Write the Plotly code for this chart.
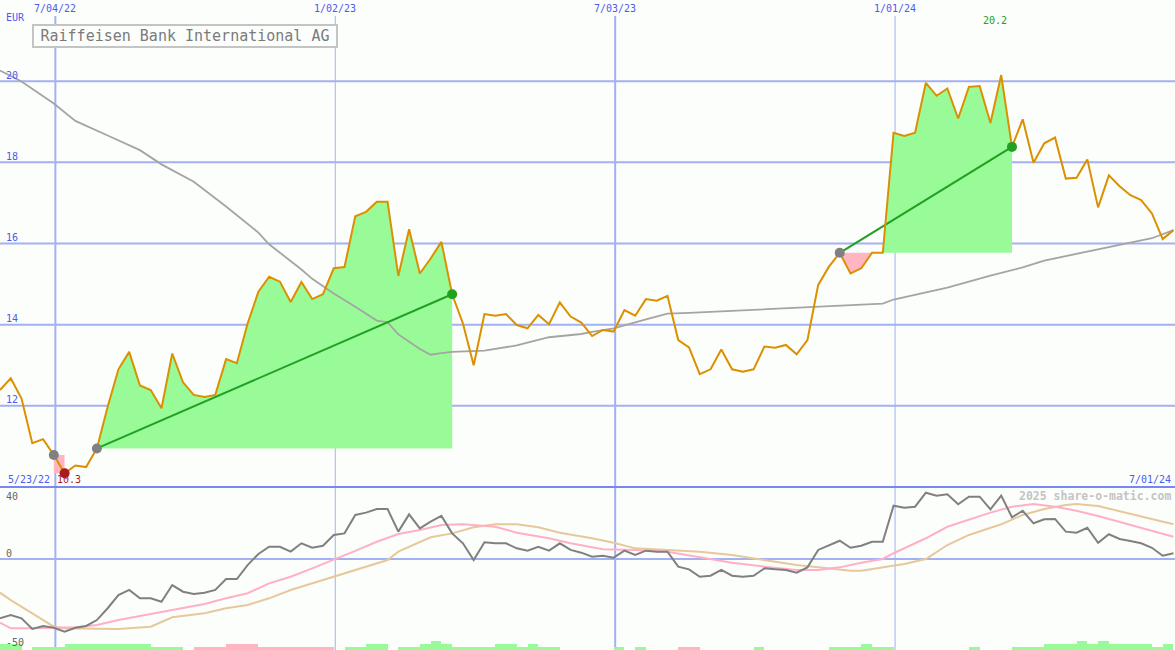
import pandas as pd
import plotly.graph_objects as go

W, H = 1175, 650

# ---------------- data ----------------
start_date = "2022-05-29"
n_weeks = 110

price = [12.39, 12.68, 12.18, 11.08, 11.18, 10.79, 10.34, 10.53, 10.49, 10.95,
         11.98, 12.90, 13.33, 12.50, 12.39, 11.94, 13.29, 12.58, 12.27, 12.22,
         12.27, 13.15, 13.05, 14.03, 14.81, 15.18, 15.06, 14.56, 15.05, 14.63,
         14.75, 15.39, 15.42, 16.67, 16.78, 17.03, 17.03, 15.20, 16.35, 15.26,
         15.63, 16.04, 14.75, 14.03, 13.00, 14.26, 14.22, 14.26, 13.99, 13.91,
         14.24, 14.01, 14.55, 14.20, 14.05, 13.72, 13.87, 13.83, 14.36, 14.22,
         14.63, 14.59, 14.71, 13.62, 13.44, 12.78, 12.90, 13.39, 12.90, 12.84,
         12.90, 13.46, 13.43, 13.50, 13.27, 13.62, 14.98, 15.43, 15.77, 15.26,
         15.39, 15.77, 15.77, 18.73, 18.65, 18.73, 19.96, 19.64, 19.82, 19.08,
         19.86, 19.88, 18.97, 20.15, 18.38, 19.06, 17.99, 18.47, 18.61, 17.60,
         17.62, 18.07, 16.89, 17.68, 17.41, 17.19, 17.07, 16.74, 16.11, 16.33]

# long moving average (main panel), sampled at week indices
ma_idx = [0, 2, 5, 7, 10, 13, 15, 18, 21, 24, 25, 28, 29, 31, 33, 35, 36, 37, 39, 40,
          41, 42, 45, 48, 51, 54, 55, 57, 60, 62, 64, 67, 71, 74, 77, 80, 82, 83, 85,
          88, 92, 95, 97, 100, 103, 106, 107, 109]
ma_val = [20.26, 19.99, 19.45, 19.02, 18.66, 18.30, 17.95, 17.52, 16.91, 16.27, 15.98,
          15.36, 15.13, 14.77, 14.44, 14.10, 14.06, 13.76, 13.40, 13.26, 13.30, 13.33,
          13.36, 13.49, 13.69, 13.77, 13.82, 13.91, 14.13, 14.27, 14.29, 14.33, 14.38,
          14.42, 14.45, 14.50, 14.52, 14.62, 14.74, 14.91, 15.21, 15.41, 15.58, 15.74,
          15.90, 16.07, 16.13, 16.33]

# trades: (start week, end week)
trades = [(9, 42), (78, 94)]
loss_box = (5, 6)
low_week, low_label = 6, "10.3"
high_week, high_label = 93, "20.2"

# lower panel: momentum (weekly)
momentum = [-41.2, -38.9, -41.2, -48.6, -46.5, -47.7, -50.5, -47.7, -46.5, -42.4,
            -34.2, -25.0, -21.5, -27.3, -27.3, -29.7, -18.1, -22.7, -24.3, -23.4,
            -21.5, -13.9, -13.9, -4.2, 3.5, 8.5, 8.5, 5.1, 10.9, 7.8,
            9.2, 16.7, 17.8, 30.6, 32.2, 34.7, 34.7, 19.0, 31.0, 21.3,
            25.9, 29.9, 17.8, 10.9, -0.7, 11.6, 10.9, 10.9, 7.4, 5.8,
            8.5, 5.8, 10.9, 6.3, 4.4, 1.6, 2.3, 0.9, 5.8, 2.8,
            5.8, 5.1, 5.1, -5.3, -7.2, -12.3, -11.6, -7.6, -11.6, -12.3,
            -11.6, -6.5, -7.2, -7.6, -9.5, -5.8, 6.3, 9.7, 12.7, 7.8,
            9.2, 12.0, 12.0, 37.0, 35.6, 36.3, 46.0, 44.0, 44.9, 38.0,
            43.3, 43.3, 34.5, 44.0, 29.0, 33.5, 24.8, 27.6, 27.8, 19.0,
            18.3, 21.7, 11.3, 17.2, 13.9, 12.5, 10.9, 7.8, 2.3, 4.0]

pink_idx = [0, 1, 3, 5, 7, 9, 11, 13, 15, 17, 19, 21, 23, 25, 27, 29, 31, 33, 35, 37,
            39, 41, 43, 46, 48, 51, 53, 56, 59, 62, 65, 68, 71, 74, 76, 78, 80, 82, 83,
            86, 88, 91, 92, 94, 96, 98, 100, 102, 104, 106, 109]
pink_val = [-44.2, -48.1, -48.1, -47.7, -47.4, -45.8, -42.4, -39.6, -37.0, -34.2, -31.3,
            -27.3, -23.8, -16.9, -12.3, -6.5, -0.7, 5.6, 12.0, 17.4, 20.1, 23.6, 24.1,
            22.4, 18.3, 14.4, 10.9, 6.7, 6.3, 5.1, 1.2, -2.6, -5.3, -7.6, -7.6, -5.8,
            -2.6, 0.0, 4.0, 14.4, 22.4, 30.1, 32.2, 36.3, 38.2, 36.3, 33.5, 29.9, 25.9,
            22.0, 15.5]

tan_idx = [0, 1, 3, 5, 6, 9, 11, 14, 16, 19, 21, 23, 25, 27, 30, 32, 34, 36, 37, 40,
           42, 44, 46, 48, 50, 52, 55, 57, 59, 62, 65, 68, 71, 74, 76, 79, 80, 82, 84,
           86, 88, 90, 93, 95, 97, 99, 100, 102, 104, 106, 109]
tan_val = [-23.4, -28.5, -37.7, -47.0, -48.1, -48.6, -48.6, -47.0, -40.5, -37.7, -34.2,
           -31.9, -27.3, -21.5, -14.6, -9.9, -5.8, -0.7, 5.1, 15.1, 17.8, 22.0, 24.1,
           24.1, 22.0, 18.3, 14.4, 11.3, 7.4, 6.3, 5.1, 2.8, -0.7, -4.2, -5.8, -8.1,
           -8.1, -5.8, -3.5, 0.0, 9.7, 16.7, 24.1, 30.6, 34.7, 37.5, 38.2, 36.8, 33.3,
           29.4, 24.1]

# signal histogram levels (weekly), + green / - pink
hist = [2, 2, 0, 1, 1, 1, 2, 2, 2, 2, 2, 2, 2, 2, 1, 1, 1, 0, -1, -1,
        -1, -2, -2, -2, -1, -1, -1, -1, -1, -1, -1, 0, 1, 1, 2, 2, 0, 1, 1, 2,
        3, 2, 1, 1, 1, 1, 2, 2, 1, 2, 1, 1, 0, 0, 0, 0, 0, 1, 0, 1,
        0, 0, 0, -1, -1, 0, 0, 0, 0, 0, 1, 0, 0, 0, 0, 0, 0, 1, 1, 1,
        2, 1, 1, 0, 0, 0, 0, 0, 0, 0, 1, 0, 0, 0, 1, 1, 1, 2, 2, 2,
        3, 2, 3, 2, 2, 2, 2, 1, 2, 0]

x_end = "2024-07-01"
date_ticks = ["2022-07-04", "2023-01-02", "2023-07-03", "2024-01-01"]
date_tick_text = ["7/04/22", "1/02/23", "7/03/23", "1/01/24"]
date_tick_major = [True, False, True, False]
price_ticks = [12, 14, 16, 18, 20]
osc_ticks = [(40, 496), (0, 553), (-50, 642)]
title = "Raiffeisen Bank International AG"
start_label = "5/23/22"
end_label = "7/01/24"
credit = "2025 share-o-matic.com"

# ---------------- styling ----------------
BG = "#fcfefc"
GRID = "#a3b0f2"
DIV = "#7888f0"
TXT = "#4a5cee"
PRICE_C = "#dc9000"
GREEN_F = "#98fb98"
PINK_F = "#ffb6c1"
TREND = "#22a022"
MONO = "DejaVu Sans Mono"

dates = pd.date_range(start_date, periods=n_weeks, freq="7D")
week = pd.Timedelta(days=7)

split = 1 - 487 / H  # main / oscillator boundary (paper)

fig = go.Figure()

# fills for trades
for (s, e) in trades:
    base = price[s]
    xs = list(dates[s:e + 1])
    below = [min(p, base) for p in price[s:e + 1]]
    above = [max(p, base) for p in price[s:e + 1]]
    fig.add_trace(go.Scatter(x=xs, y=[base] * len(xs), mode="lines",
                             line=dict(width=0), hoverinfo="skip", yaxis="y"))
    fig.add_trace(go.Scatter(x=xs, y=below, mode="lines", line=dict(width=0),
                             fill="tonexty", fillcolor=PINK_F, hoverinfo="skip", yaxis="y"))
    fig.add_trace(go.Scatter(x=xs, y=[base] * len(xs), mode="lines",
                             line=dict(width=0), hoverinfo="skip", yaxis="y"))
    fig.add_trace(go.Scatter(x=xs, y=above, mode="lines", line=dict(width=0),
                             fill="tonexty", fillcolor=GREEN_F, hoverinfo="skip", yaxis="y"))

# small loss box near the low
a, b = loss_box
fig.add_trace(go.Scatter(x=[dates[a], dates[b], dates[b], dates[a], dates[a]],
                         y=[price[a], price[a], price[b], price[b], price[a]],
                         mode="lines", line=dict(width=0), fill="toself",
                         fillcolor=PINK_F, hoverinfo="skip", yaxis="y"))

# long moving average
fig.add_trace(go.Scatter(x=[dates[i] for i in ma_idx], y=ma_val, mode="lines",
                         line=dict(color="#a4a4a4", width=1.8), yaxis="y"))

# trend lines
for (s, e) in trades:
    fig.add_trace(go.Scatter(x=[dates[s], dates[e]], y=[price[s], price[e]], mode="lines",
                             line=dict(color=TREND, width=2), yaxis="y"))

# price
fig.add_trace(go.Scatter(x=dates, y=price, mode="lines",
                         line=dict(color=PRICE_C, width=2), yaxis="y"))

# markers
mk_x, mk_y, mk_c = [], [], []
mk_x.append(dates[loss_box[0]]); mk_y.append(price[loss_box[0]]); mk_c.append("#808080")
mk_x.append(dates[low_week]); mk_y.append(price[low_week]); mk_c.append("#a81c1c")
for (s, e) in trades:
    mk_x += [dates[s], dates[e]]
    mk_y += [price[s], price[e]]
    mk_c += ["#808080", TREND]
fig.add_trace(go.Scatter(x=mk_x, y=mk_y, mode="markers",
                         marker=dict(size=10, color=mk_c, line=dict(width=0)), yaxis="y"))

# oscillator panel
fig.add_trace(go.Bar(x=[d + week / 2 for d in dates], y=[abs(h) for h in hist],
                     width=7 * 86400000,
                     marker=dict(color=[GREEN_F if h >= 0 else PINK_F for h in hist],
                                 line=dict(width=0)),
                     yaxis="y3"))
fig.add_trace(go.Scatter(x=[dates[i] for i in tan_idx], y=tan_val, mode="lines",
                         line=dict(color="#e6c89a", width=2), yaxis="y2"))
fig.add_trace(go.Scatter(x=[dates[i] for i in pink_idx], y=pink_val, mode="lines",
                         line=dict(color="#ffb0c6", width=2), yaxis="y2"))
fig.add_trace(go.Scatter(x=dates, y=momentum, mode="lines",
                         line=dict(color="#808080", width=2), yaxis="y2"))

# ---------------- gridlines ----------------
shapes = []
for v in price_ticks:
    shapes.append(dict(type="line", xref="paper", yref="y", x0=0, x1=1, y0=v, y1=v,
                       line=dict(color=GRID, width=2), layer="below"))
shapes.append(dict(type="line", xref="paper", yref="y2", x0=0, x1=1, y0=0, y1=0,
                   line=dict(color=GRID, width=2), layer="below"))
for d, major in zip(date_ticks, date_tick_major):
    shapes.append(dict(type="line", xref="x", yref="paper", x0=d, x1=d,
                       y0=0, y1=1 - 16 / H,
                       line=dict(color=GRID, width=2 if major else 1), layer="below"))
shapes.append(dict(type="line", xref="paper", yref="paper", x0=0, x1=1,
                   y0=split, y1=split, line=dict(color=DIV, width=2), layer="below"))

# ---------------- text ----------------
def py(ypix):
    return 1 - ypix / H

LBL = 10
ann = []
for d, t in zip(date_ticks, date_tick_text):
    ann.append(dict(x=d, xref="x", y=py(8), yref="paper", text=t, showarrow=False,
                    xanchor="center", yanchor="middle",
                    font=dict(family=MONO, size=LBL, color=TXT)))
ann.append(dict(x=4 / W, xref="paper", y=py(17), yref="paper", text="EUR", showarrow=False,
                xanchor="left", yanchor="middle", font=dict(family=MONO, size=LBL, color=TXT)))
for v in price_ticks:
    ann.append(dict(x=4 / W, xref="paper", y=v, yref="y", yshift=6, text=str(v),
                    showarrow=False, xanchor="left", yanchor="middle",
                    font=dict(family=MONO, size=LBL, color=TXT)))
for v, ypix in osc_ticks:
    ann.append(dict(x=4 / W, xref="paper", y=py(ypix), yref="paper", text=str(v),
                    showarrow=False, xanchor="left", yanchor="middle",
                    font=dict(family=MONO, size=LBL, color="#666666")))
ann.append(dict(x=6 / W, xref="paper", y=py(479), yref="paper", text=start_label,
                showarrow=False, xanchor="left", yanchor="middle",
                font=dict(family=MONO, size=LBL, color=TXT)))
ann.append(dict(x=1173 / W, xref="paper", y=py(479), yref="paper", text=end_label,
                showarrow=False, xanchor="right", yanchor="middle",
                font=dict(family=MONO, size=LBL, color=TXT)))
ann.append(dict(x=dates[low_week], xref="x", xshift=4, y=py(479), yref="paper",
                text=low_label, showarrow=False, xanchor="center", yanchor="middle",
                font=dict(family=MONO, size=LBL, color="#a81c1c")))
ann.append(dict(x=dates[high_week], xref="x", xshift=-6, y=py(21), yref="paper",
                text=high_label, showarrow=False, xanchor="center", yanchor="middle",
                font=dict(family=MONO, size=LBL, color=TREND)))
ann.append(dict(x=1173 / W, xref="paper", y=py(496), yref="paper", text="<b>" + credit + "</b>",
                showarrow=False, xanchor="right", yanchor="middle",
                font=dict(family=MONO, size=11.5, color="#c4c4c4")))
ann.append(dict(x=32 / W, xref="paper", y=py(24), yref="paper", text=title,
                showarrow=False, xanchor="left", yanchor="top", width=300, height=18,
                align="center", valign="middle", borderpad=1, borderwidth=2,
                bordercolor="#c4c4c4", bgcolor=BG,
                font=dict(family=MONO, size=15, color="#7a7a7a")))

fig.update_layout(
    width=W, height=H, autosize=False,
    margin=dict(l=0, r=0, t=0, b=0),
    paper_bgcolor=BG, plot_bgcolor=BG,
    showlegend=False, bargap=0,
    xaxis=dict(type="date", range=[start_date, x_end], visible=False, domain=[0, 1],
               fixedrange=True),
    yaxis=dict(domain=[split, 1], range=[10, 22], visible=False, fixedrange=True),
    yaxis2=dict(domain=[0, split], range=[-63.19, 50], visible=False, fixedrange=True),
    yaxis3=dict(overlaying="y2", range=[0, 163 / 3], visible=False, fixedrange=True),
    shapes=shapes, annotations=ann,
)

fig.write_html("out.html", config={"displayModeBar": False},
               post_script="document.body.style.margin='0px';"
                           "document.body.style.background='" + BG + "';")
